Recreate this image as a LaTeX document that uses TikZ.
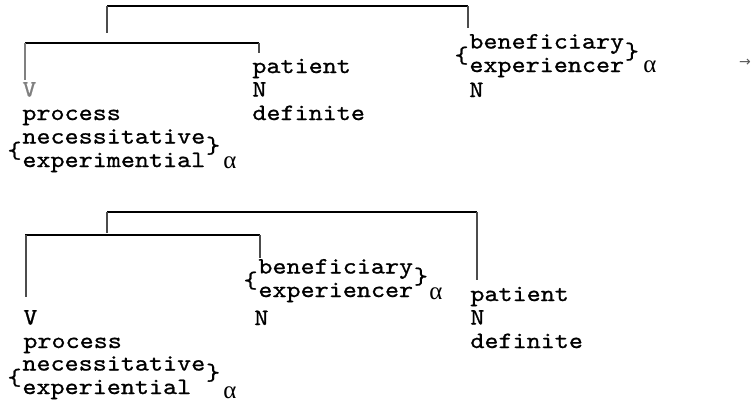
\documentclass[tikz,border=0pt]{standalone}
\usepackage{fontspec}
\setmonofont[FakeBold=0.9, FakeStretch=1.145]{lmmono10-regular.otf}
\newfontfamily\arrowfont{DejaVu Sans}
\newfontfamily\greekfont{Liberation Serif}

\begin{document}
\begin{tikzpicture}[x=0.5pt,y=-0.5pt,
   every node/.style={font=\ttfamily\fontsize{11.7}{11.75}\selectfont, inner sep=0pt, align=left},
   greek/.style={font=\greekfont\fontsize{12.5}{12.5}\selectfont, anchor=base west},
   bar/.style={line width=0.9pt},
   stem/.style={line width=0.6pt, gray!60!black}]
   \useasboundingbox (0,0) rectangle (751,403);
         % upper tree
         \node[anchor=base west] (V1) at (22,120) {\textcolor{gray}{V}\\process};
         \node[anchor=base west] (F1) at (22,167) {necessitative\\experimential};
         \node[anchor=east] (L1) at (F1.west) {\{};
         \node[anchor=west, yshift=2.5pt] (R1) at (F1.east) {\}};
         \node[greek] (A1) at (223,168) {α};
         \node[anchor=base west] (P1) at (252,120) {patient\\N\\definite};
         \node[anchor=base west] (B1) at (469,72) {beneficiary\\experiencer};
         \node[anchor=east] (L2) at (B1.west) {\{};
         \node[anchor=west, yshift=2pt] (R2) at (B1.east) {\}};
         \node[greek] (A2) at (643,72) {α};
         \node[anchor=base west] (N1) at (469,97) {N};
         \node (E) at (745,63) {\arrowfont\fontsize{7}{7}\selectfont\color{gray!70!black} →};
         \coordinate (J1) at (107,33);
         \coordinate (S1) at (468,28);
         \coordinate (H1) at (25,43);
         \coordinate (S2) at (25,80);
         \coordinate (S3) at (259,53);
         \draw[bar] (J1 |- 0,6) -- (S1 |- 0,6);
         \draw[stem] (J1 |- 0,6) -- (J1);
         \draw[stem] (S1 |- 0,6) -- (S1);
         \draw[bar] (H1) -- (H1 -| S3);
         \draw[stem, gray] (H1) -- (S2);
         \draw[stem] (H1 -| S3) -- (S3);
         % lower tree
         \node[anchor=base west] (V2) at (23,348) {V\\process};
         \node[anchor=base west] (F2) at (22,394) {necessitative\\experiential};
         \node[anchor=east] (L3) at (F2.west) {\{};
         \node[anchor=west, yshift=2.5pt] (R3) at (F2.east) {\}};
         \node[greek] (A3) at (223,398) {α};
         \node[anchor=base west] (B2) at (258,297) {beneficiary\\experiencer};
         \node[anchor=east] (L4) at (B2.west) {\{};
         \node[anchor=west, yshift=2pt] (R4) at (B2.east) {\}};
         \node[greek] (A4) at (429,299) {α};
         \node[anchor=base west] (N2) at (254,325) {N};
         \node[anchor=base west] (P2) at (470,348) {patient\\N\\definite};
         \coordinate (J2) at (107,233);
         \coordinate (S4) at (477,280);
         \coordinate (H2) at (25,235);
         \coordinate (S5) at (26,297);
         \coordinate (S6) at (260,258);
         \draw[bar] (J2 |- 0,212) -- (S4 |- 0,212);
         \draw[stem] (J2 |- 0,212) -- (J2);
         \draw[stem] (S4 |- 0,212) -- (S4);
         \draw[bar] (H2) -- (H2 -| S6);
         \draw[stem] (H2 -| S5) -- (S5);
         \draw[stem] (H2 -| S6) -- (S6);
\end{tikzpicture}
\end{document}
